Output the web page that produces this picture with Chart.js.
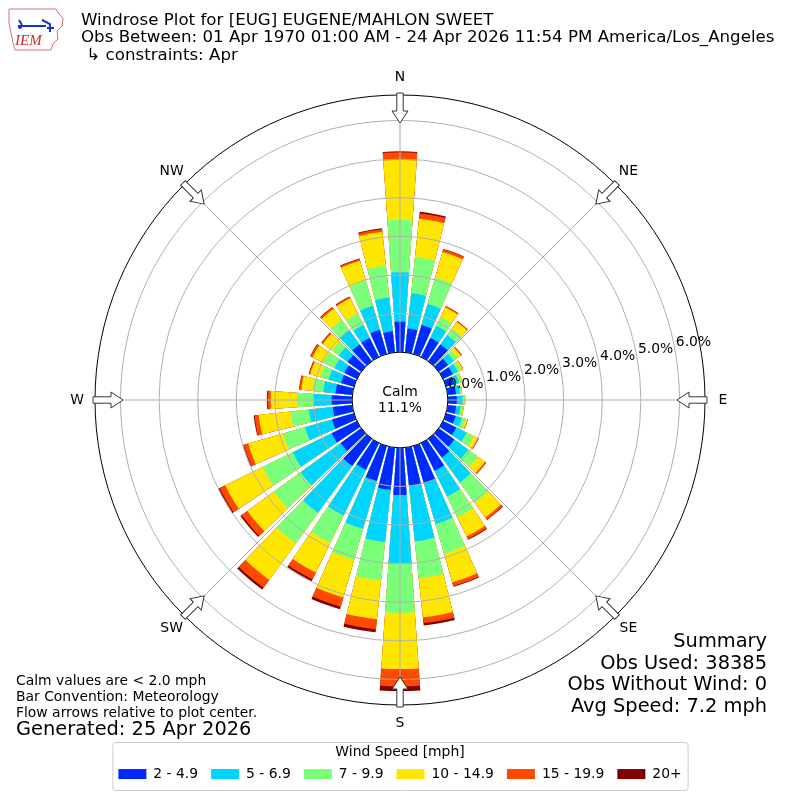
<!DOCTYPE html>
<html>
<head>
<meta charset="utf-8">
<script src="https://cdn.jsdelivr.net/npm/chart.js@4.4.1/dist/chart.umd.min.js"></script>
<style>
  html, body { margin: 0; padding: 0; background: #fff; }
  #wrap { position: relative; width: 800px; height: 800px; font-family: "DejaVu Sans", sans-serif; color: #000; }
  #wrap canvas { position: absolute; left: 0; top: 0; }
  .txt { position: absolute; white-space: pre; }
</style>
</head>
<body>
<div id="wrap">
  <canvas id="rose" width="800" height="800"></canvas>
  <svg style="position:absolute;left:6px;top:6px" width="62" height="46" viewBox="0 0 62 46">
    <path d="M3 3 L50 3 L53 8 L57 12 L56 20 L51 25 L52 33 L47 38 L45 44 L9 44 L7 37 L5 27 L3 17 Z" fill="none" stroke="#e07070" stroke-width="1"/>
    <path d="M13 14 L16 19 M12 20 L40 20 M36 14 L44 18 L44 26 M41 22 L48 22" fill="none" stroke="#1a2fd0" stroke-width="2"/>
    <circle cx="14" cy="21" r="2" fill="#1a2fd0"/>
    <text x="9" y="39" font-family="Liberation Serif" font-style="italic" font-size="15" fill="#d02828">IEM</text>
  </svg>
  <div class="txt" style="left:81px;top:11px;font-size:16.67px;line-height:17.4px;">Windrose Plot for [EUG] EUGENE/MAHLON SWEET
Obs Between: 01 Apr 1970 01:00 AM - 24 Apr 2026 11:54 PM America/Los_Angeles
 ↳ constraints: Apr</div>
  <div class="txt" style="left:16px;top:672px;font-size:13.9px;line-height:16.2px;">Calm values are &lt; 2.0 mph
Bar Convention: Meteorology
Flow arrows relative to plot center.</div>
  <div class="txt" style="left:16px;top:718px;font-size:19.4px;line-height:22px;">Generated: 25 Apr 2026</div>
  <div class="txt" style="right:33px;top:630px;font-size:19.4px;line-height:21.7px;text-align:right;">Summary
Obs Used: 38385
Obs Without Wind: 0
Avg Speed: 7.2 mph</div>
</div>
<script>
// direction each bar points from (degrees), percent of obs per speed bin
const directions = [10, 20, 30, 40, 50, 60, 70, 80, 90, 100, 110, 120, 130, 140, 150, 160, 170, 180,
                    190, 200, 210, 220, 230, 240, 250, 260, 270, 280, 290, 300, 310, 320, 330, 340, 350, 360];
const speedBins = ['2 - 4.9', '5 - 6.9', '7 - 9.9', '10 - 14.9', '15 - 19.9', '20+'];
const binColors = ['#0029ff', '#00d5ff', '#7bff7b', '#ffe600', '#ff4800', '#800000'];
const pct2to5 = [0.62, 0.78, 0.55, 0.54, 0.30, 0.28, 0.23, 0.22, 0.23, 0.22, 0.26, 0.38, 0.50, 0.60, 0.80, 1.00, 0.99, 1.22,
                 1.10, 0.94, 0.77, 0.87, 0.66, 0.73, 0.59, 0.51, 0.53, 0.44, 0.35, 0.36, 0.44, 0.54, 0.55, 0.65, 0.55, 0.79];
const pct5to7 = [0.92, 0.57, 0.35, 0.30, 0.18, 0.15, 0.12, 0.10, 0.15, 0.12, 0.17, 0.30, 0.45, 0.80, 0.74, 1.10, 1.45, 1.77,
                 1.36, 1.29, 1.32, 1.50, 1.28, 1.12, 0.73, 0.62, 0.47, 0.32, 0.33, 0.29, 0.28, 0.45, 0.37, 0.65, 0.88, 1.28];
const pct7to10 = [0.94, 0.71, 0.25, 0.20, 0.12, 0.08, 0.06, 0.04, 0.06, 0.06, 0.10, 0.20, 0.30, 0.65, 0.60, 0.80, 0.96, 1.28,
                  1.00, 0.84, 0.79, 0.98, 0.86, 0.87, 0.59, 0.48, 0.43, 0.28, 0.23, 0.31, 0.21, 0.34, 0.33, 0.67, 0.83, 1.36];
const pct10to15 = [1.00, 0.69, 0.28, 0.22, 0.11, 0.06, 0.03, 0.02, 0.01, 0.02, 0.05, 0.13, 0.23, 0.47, 0.55, 0.77, 1.02, 1.46,
                   1.01, 1.01, 0.85, 1.17, 0.85, 1.08, 0.94, 0.83, 0.68, 0.29, 0.27, 0.32, 0.30, 0.35, 0.44, 0.54, 0.88, 1.55];
const pct15to20 = [0.14, 0.07, 0.04, 0.03, 0.03, 0.01, 0, 0, 0, 0, 0.01, 0.02, 0.04, 0.07, 0.08, 0.10, 0.15, 0.45,
                   0.26, 0.25, 0.20, 0.25, 0.18, 0.16, 0.12, 0.11, 0.08, 0.05, 0.03, 0.06, 0.04, 0.05, 0.04, 0.05, 0.07, 0.20];
const pct20up = [0.04, 0.01, 0, 0, 0, 0, 0, 0, 0, 0, 0, 0, 0, 0.01, 0.02, 0.02, 0.06, 0.12,
                 0.08, 0.07, 0.05, 0.06, 0.04, 0.04, 0.02, 0.02, 0.02, 0.01, 0.01, 0.01, 0.01, 0.01, 0.01, 0.01, 0.02, 0.02];
const calmPct = 11.1;
const radialTicks = [0, 1, 2, 3, 4, 5, 6];
// the radial scale starts at NE, so the compass names go round from there
const compassPoints = ['NE', 'E', 'SE', 'S', 'SW', 'W', 'NW', 'N'];

const bins = [pct2to5, pct5to7, pct7to10, pct10to15, pct15to20, pct20up];
const cumulative = bins.map((b, k) =>
  directions.map((d, i) => bins.slice(0, k + 1).reduce((s, arr) => s + arr[i], 0)));

// bars take 8 of every 10 degrees; empty slices fill the gaps.
// start at 45 deg, which sits in the gap between the 40 and 50 bars
const barOpening = 8;
const slotDir = [];
const slotAngle = [];
const firstBar = directions.indexOf(50);
slotDir.push(-1); slotAngle.push((10 - barOpening) / 2);
for (let k = 0; k < directions.length; k++) {
  slotDir.push((firstBar + k) % directions.length);
  slotAngle.push(barOpening);
  slotDir.push(-1);
  slotAngle.push(k < directions.length - 1 ? 10 - barOpening : (10 - barOpening) / 2);
}

Chart.defaults.font.family = 'DejaVu Sans';
Chart.defaults.color = '#000';

const roseDecor = {
  id: 'roseDecor',
  afterDraw(chart) {
    const ctx = chart.ctx;
    const s = chart.scales.r;
    const cx = s.xCenter, cy = s.yCenter, R = s.drawingArea;
    ctx.save();

    // calm circle
    const r0 = s.getDistanceFromCenterForValue(0);
    ctx.beginPath();
    ctx.arc(cx, cy, r0, 0, 2 * Math.PI);
    ctx.fillStyle = '#fff';
    ctx.fill();
    ctx.lineWidth = 1;
    ctx.strokeStyle = '#000';
    ctx.stroke();
    ctx.fillStyle = '#000';
    ctx.font = '13.9px "DejaVu Sans"';
    ctx.textAlign = 'center';
    ctx.textBaseline = 'middle';
    ctx.fillText('Calm', cx, cy - 8);
    ctx.fillText(calmPct.toFixed(1) + '%', cx, cy + 8);

    // ring labels
    const la = 79.5 * Math.PI / 180;
    ctx.textAlign = 'left';
    ctx.textBaseline = 'bottom';
    radialTicks.forEach(v => {
      const r = s.getDistanceFromCenterForValue(v);
      ctx.fillText(v.toFixed(1) + '%', cx + r * Math.sin(la) + 1, cy - r * Math.cos(la));
    });

    // compass arrows and names
    ctx.textAlign = 'center';
    ctx.textBaseline = 'middle';
    compassPoints.forEach((name, i) => {
      const a = s.getIndexAngle(i) - Math.PI / 2;
      ctx.save();
      ctx.translate(cx, cy);
      ctx.rotate(a);
      const tip = R - 28, tail = R + 2, head = 12, hw = 8, sw = 3.2;
      ctx.beginPath();
      ctx.moveTo(tip, 0);
      ctx.lineTo(tip + head, -hw);
      ctx.lineTo(tip + head, -sw);
      ctx.lineTo(tail, -sw);
      ctx.lineTo(tail, sw);
      ctx.lineTo(tip + head, sw);
      ctx.lineTo(tip + head, hw);
      ctx.closePath();
      ctx.fillStyle = '#fff';
      ctx.fill();
      ctx.strokeStyle = '#333';
      ctx.lineWidth = 1;
      ctx.stroke();
      ctx.restore();
      const p = s.getPointPosition(i, R + 18);
      ctx.fillStyle = '#000';
      ctx.fillText(name, p.x, p.y);
    });

    // legend frame
    const hb = chart.legend.legendHitBoxes;
    if (hb && hb.length) {
      const last = hb[hb.length - 1];
      const left = hb[0].left - 6;
      const right = last.left + last.width + 6;
      const bottom = hb[0].top + hb[0].height + 9;
      const top = bottom - 48;
      ctx.beginPath();
      ctx.roundRect(left + 0.5, top + 0.5, right - left, bottom - top, 3);
      ctx.strokeStyle = '#cccccc';
      ctx.lineWidth = 1;
      ctx.stroke();
    }
    ctx.restore();
  }
};

new Chart(document.getElementById('rose'), {
  type: 'polarArea',
  data: {
    labels: compassPoints,
    datasets: speedBins.map((label, k) => ({
      label: label,
      data: slotDir.map(d => d < 0 ? 0 : cumulative[k][d]),
      backgroundColor: c => slotDir[c.dataIndex] < 0 ? 'rgba(0,0,0,0)' : binColors[k],
      borderWidth: 0,
      angle: c => slotAngle[c.dataIndex]
    }))
  },
  options: {
    responsive: false,
    animation: false,
    events: [],
    layout: { padding: { top: 95, left: 85, right: 85, bottom: 9 } },
    scales: {
      r: {
        min: -1.24,
        max: 6.66,
        startAngle: 45,
        beginAtZero: false,
        ticks: { display: false, stepSize: 1 },
        grid: {
          circular: true,
          z: 1,
          lineWidth: 1,
          color: c => c.tick.value < 0 ? 'rgba(0,0,0,0)' : (c.tick.value >= c.scale.max - 1e-6 ? '#000' : '#b0b0b0')
        },
        angleLines: { display: true, color: '#b0b0b0', lineWidth: 1 },
        pointLabels: { display: false }
      }
    },
    plugins: {
      tooltip: { enabled: false },
      legend: {
        position: 'bottom',
        labels: {
          boxWidth: 28,
          boxHeight: 10,
          padding: 13,
          font: { size: 13.9 },
          generateLabels: ch => ch.data.datasets.map((ds, i) => ({
            text: ds.label, fillStyle: binColors[i], strokeStyle: binColors[i],
            lineWidth: 0, hidden: false, datasetIndex: i, fontColor: '#000'
          }))
        },
        title: {
          display: true,
          text: 'Wind Speed [mph]',
          color: '#000',
          font: { size: 13.9 },
          padding: { top: 40, bottom: -7.6 }
        }
      }
    }
  },
  plugins: [roseDecor]
});
</script>
</body>
</html>
